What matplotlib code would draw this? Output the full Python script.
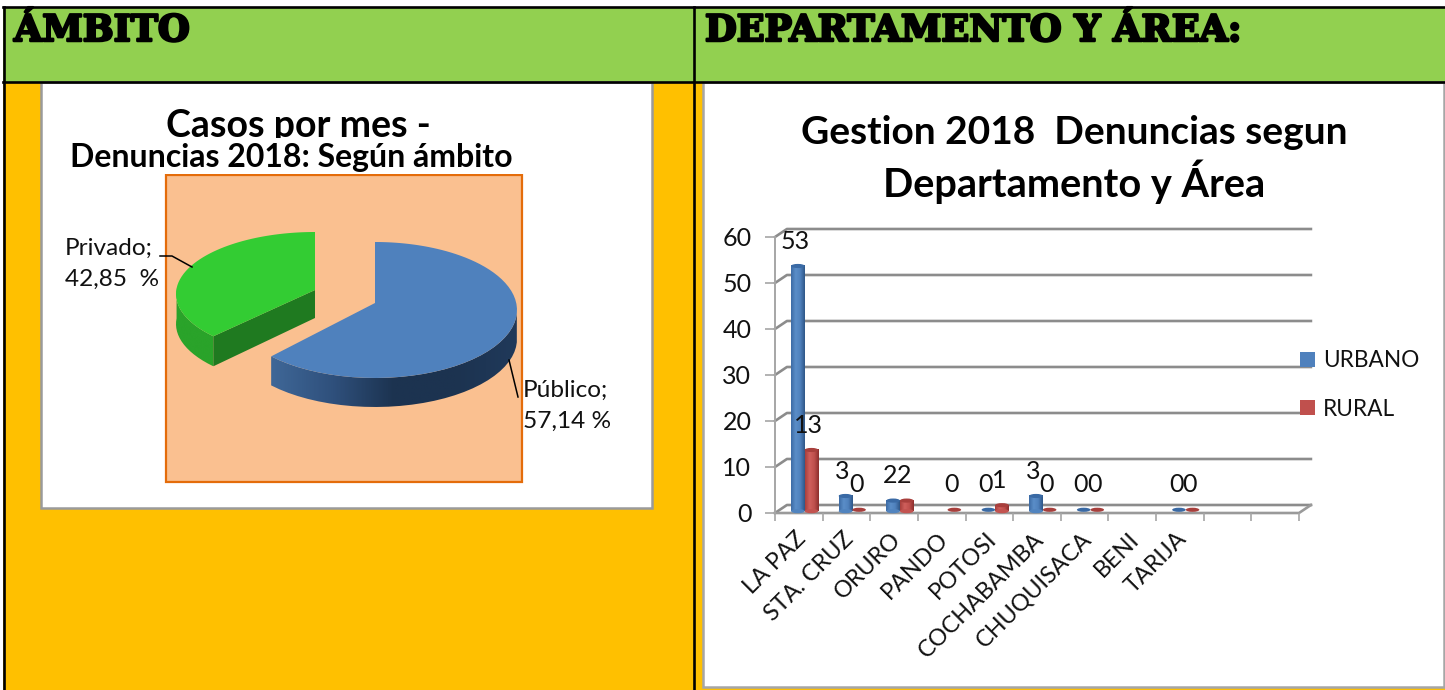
import matplotlib
matplotlib.use('Agg')
import matplotlib.pyplot as plt
import matplotlib.patheffects as pe
from matplotlib.patches import Rectangle, Polygon, Ellipse, Patch
import numpy as np

# datos
ambito_pct = [57.14, 42.85]
ambito_txt = ['Público;\n57,14 %', 'Privado;\n42,85  %']

departamentos = ['LA PAZ', 'STA. CRUZ', 'ORURO', 'PANDO', 'POTOSI', 'COCHABAMBA',
                 'CHUQUISACA', 'BENI', 'TARIJA', '', '']
urbano = [53, 3, 2, None, 0, 3, 0, None, 0, None, None]
rural = [13, 0, 2, 0, 1, 0, 0, None, 0, None, None]
y_ticks = [0, 10, 20, 30, 40, 50, 60]

FONT = 'Lato'
W, H = 1445, 690
fig = plt.figure(figsize=(W / 100, H / 100), dpi=100, facecolor='white')

# pagina en pixeles
pg = fig.add_axes([0, 0, 1, 1])
pg.set_xlim(0, W)
pg.set_ylim(H, 0)
pg.axis('off')

pg.add_patch(Rectangle((3, 7), 1442, 75, fc='#92D050', ec='none'))
pg.add_patch(Rectangle((3, 82), 1442, 610, fc='#FFC000', ec='none'))
pg.add_patch(Rectangle((41, 82), 611, 426, fc='white', ec='#9a9a9a', lw=1.8))
pg.add_patch(Rectangle((703, 82), 741, 605, fc='white', ec='#a6a6a6', lw=1.8))
pg.add_patch(Rectangle((166, 175), 356, 307, fc='#FAC090', ec='#E46C0A', lw=1.6))

for xs, ys in [([3, 1445], [7, 7]), ([3, 1445], [82, 82]), ([4, 4], [7, 690]), ([694, 694], [7, 690])]:
    pg.plot(xs, ys, color='black', lw=1.9, zorder=6)

head = dict(family='DejaVu Serif', weight='bold', size=26.3, va='center', color='black',
            path_effects=[pe.withStroke(linewidth=1.8, foreground='black')], zorder=7)
pg.text(14, 31, 'ÁMBITO', **head)
pg.text(705, 31, 'DEPARTAMENTO Y ÁREA:', **head)

# titulos
pg.text(298, 126, 'Casos por mes -', family=FONT, weight='bold', size=27, ha='center', va='center', zorder=3)
pg.add_patch(Rectangle((60, 138), 470, 36, fc='white', ec='none', zorder=3.5))
pg.text(291, 157, 'Denuncias 2018: Según ámbito', family=FONT, weight='bold', size=23, ha='center', va='center', zorder=4)
pg.text(1074, 132, 'Gestion 2018  Denuncias segun', family=FONT, weight='bold', size=28, ha='center', va='center')
pg.text(1074, 182, 'Departamento y Área', family=FONT, weight='bold', size=28.6, ha='center', va='center')


# torta 3D: el angulo real se deforma como en la perspectiva de Excel
def arco(t0, t1, cx, cy, rx, ry, n=80):
    t = np.radians(np.linspace(t0, t1, n))
    phi = t - np.radians(49) * np.sin(t)
    return np.column_stack([cx + rx * np.sin(phi), cy - ry * np.cos(phi)])


def lado(puntos, alto, colores, zorder):
    pol = np.vstack([puntos, puntos[::-1] + [0, alto]])
    p = Polygon(pol, fc='none', ec='none', zorder=zorder)
    pg.add_patch(p)
    cmap = matplotlib.colors.LinearSegmentedColormap.from_list('l', colores)
    x0, x1 = pol[:, 0].min(), pol[:, 0].max()
    y0, y1 = pol[:, 1].min(), pol[:, 1].max()
    im = pg.imshow(np.linspace(0, 1, 200)[None, :], cmap=cmap, extent=[x0, x1, y1, y0],
                   aspect='auto', zorder=zorder)
    im.set_clip_path(p)


total = sum(ambito_pct)
corte = 360 * ambito_pct[0] / total

# publico
cpub = (375, 310)
a_pub = arco(0, corte, *cpub, 142, 68)
visible = a_pub[a_pub[:, 1] > cpub[1]]
lado(visible, 29, ['#3f6797', '#2f507c', '#1c3350', '#1c3350', '#20395a'], 2)
pg.add_patch(Polygon(np.vstack([[cpub[0], cpub[1] - 7], a_pub]), fc='#4F81BD', ec='none', zorder=2.2))

# privado, el vertice queda un poco arriba del centro de la elipse
vert = (315, 290)
a_pri = arco(corte, 360, 315, 294, 139, 62)
esq = a_pri[0]
pg.add_patch(Polygon([esq, esq + [0, 30], [vert[0], vert[1] + 28], vert], fc='#1F7A20', ec='none', zorder=2))
izq = a_pri[a_pri[:, 1] > vert[1] - 2]
lado(izq, 30, ['#2aa32a', '#2aa32a', '#2aa32a'], 1.9)
pg.add_patch(Polygon(np.vstack([vert, a_pri]), fc='#33CC33', ec='none', zorder=2.2))

txt = dict(family=FONT, size=17.6, linespacing=1.55, zorder=5, color='#111111')
pg.text(523, 406, ambito_txt[0], ha='left', va='center', **txt)
pg.text(65, 264, ambito_txt[1], ha='left', va='center', **txt)
pg.plot([509, 518], [360, 397], color='black', lw=1.1, zorder=5)
pg.plot([160, 172, 192], [256, 256, 267], color='black', lw=1.1, zorder=5)

# barras
ax = fig.add_axes([775 / W, (H - 513) / H, (1299 - 775) / W, (513 - 237) / H])
ax.patch.set_alpha(0)
ax.set_xlim(0, 11)
ax.set_ylim(0, 60)
for s in ['top', 'right', 'bottom']:
    ax.spines[s].set_visible(False)
ax.spines['left'].set_color('#a6a6a6')
ax.spines['left'].set_linewidth(1.4)

DX, DY = 0.25, 1.74
for v in y_ticks:
    ax.plot([0, DX, 11 + DX], [v, v + DY, v + DY], color='#8c8c8c', lw=1.9, clip_on=False, zorder=1)
ax.plot([0, 11, 11 + DX], [0, 0, DY], color='#9a9a9a', lw=1.9, clip_on=False, zorder=1)

ax.set_yticks(y_ticks)
ax.set_xticks(np.arange(12), minor=True)
ax.set_xticks(np.arange(11) + 0.42)
ax.set_xticklabels(departamentos, rotation=45, ha='right', rotation_mode='anchor',
                   family=FONT, size=16.8, color='#111111')
ax.set_yticklabels(y_ticks, family=FONT, size=18, color='#111111')
ax.tick_params(axis='x', which='major', length=0, pad=11)
ax.tick_params(axis='x', which='minor', length=6, color='#a6a6a6', width=1.2)
ax.tick_params(axis='y', length=7, color='#a6a6a6', width=1.2, pad=10)

ANCHO = 0.285
azul = matplotlib.colors.LinearSegmentedColormap.from_list('a', ['#3d6ca6', '#5b8ec8', '#4F81BD', '#2f5788'])
rojo = matplotlib.colors.LinearSegmentedColormap.from_list('r', ['#a83f3c', '#cf5f5c', '#C0504D', '#8c2f2d'])


def barras(vals, off, cmap, tapa, zorder):
    for i, v in enumerate(vals):
        if v is None:
            continue
        c = i + off
        if v > 0:
            im = ax.imshow(np.linspace(0, 1, 50)[None, :], cmap=cmap, aspect='auto', zorder=zorder,
                           extent=[c - ANCHO / 2, c + ANCHO / 2, 0.4, v + 0.7])
            im.set_clip_on(False)
            ax.add_patch(Ellipse((c, 0.4), ANCHO, 0.9, fc=cmap(0.6), ec='none', zorder=zorder, clip_on=False))
        ax.add_patch(Ellipse((c, v + 0.7), ANCHO, 0.9, fc=tapa, ec='none', zorder=zorder + 0.1, clip_on=False))
        ax.text(c - 0.06, v + 6.1, str(v), family=FONT, size=18, ha='center', va='center',
                color='#111111', zorder=6, clip_on=False)


barras(urbano, 0.48, azul, '#3a6aa5', 3)
barras(rural, 0.765, rojo, '#a83f3c', 3.2)
ax.set_xlim(0, 11)
ax.set_ylim(0, 60)

ax.legend(handles=[Patch(fc='#4F81BD', label='URBANO'), Patch(fc='#C0504D', label='RURAL')],
          loc='center left', bbox_to_anchor=((1300 - 775) / (1299 - 775), (513 - 385) / (513 - 237)),
          frameon=False, prop={'family': FONT, 'size': 16.3}, handlelength=0.65, handleheight=0.65,
          handletextpad=0.35, labelspacing=1.2, labelcolor='#111111', borderaxespad=0, borderpad=0)

fig.savefig('out.png', dpi=100)
